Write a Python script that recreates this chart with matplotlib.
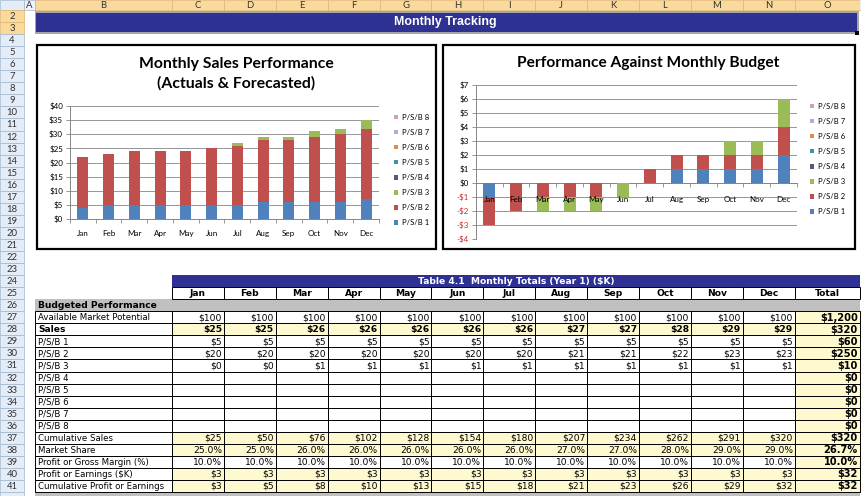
import matplotlib
matplotlib.use('Agg')
import matplotlib.pyplot as plt
from matplotlib.patches import Rectangle
from matplotlib.ticker import FuncFormatter, MultipleLocator

W, H = 862, 496

months = ['Jan', 'Feb', 'Mar', 'Apr', 'May', 'Jun', 'Jul', 'Aug', 'Sep', 'Oct', 'Nov', 'Dec']
series_names = ['P/S/B 1', 'P/S/B 2', 'P/S/B 3', 'P/S/B 4', 'P/S/B 5', 'P/S/B 6', 'P/S/B 7', 'P/S/B 8']
series_colors = ['#4F81BD', '#C0504D', '#9BBB59', '#5F5574', '#3B93AE', '#E0894A', '#A4B3D6', '#CFA3A3']

# chart 1 - monthly sales (actuals & forecasted)
sales_psb1 = [4, 5, 5, 5, 5, 5, 5, 6, 6, 6, 6, 7]
sales_psb2 = [18, 18, 19, 19, 19, 20, 21, 22, 22, 23, 24, 25]
sales_psb3 = [0, 0, 0, 0, 0, 0, 1, 1, 1, 2, 2, 3]

# chart 2 - performance against budget
budget_psb1 = [-1, 0, 0, 0, 0, 0, 0, 1, 1, 1, 1, 2]
budget_psb2 = [-2, -2, -1, -1, -1, 0, 1, 1, 1, 1, 1, 2]
budget_psb3 = [0, 0, -1, -1, -1, -1, 0, 0, 0, 1, 1, 2]

# table 4.1
market_potential = [100, 100, 100, 100, 100, 100, 100, 100, 100, 100, 100, 100]
sales = [25, 25, 26, 26, 26, 26, 26, 27, 27, 28, 29, 29]
psb1 = [5, 5, 5, 5, 5, 5, 5, 5, 5, 5, 5, 5]
psb2 = [20, 20, 20, 20, 20, 20, 20, 21, 21, 22, 23, 23]
psb3 = [0, 0, 1, 1, 1, 1, 1, 1, 1, 1, 1, 1]
cum_sales = [25, 50, 76, 102, 128, 154, 180, 207, 234, 262, 291, 320]
market_share = [25.0, 25.0, 26.0, 26.0, 26.0, 26.0, 26.0, 27.0, 27.0, 28.0, 29.0, 29.0]
margin = [10.0, 10.0, 10.0, 10.0, 10.0, 10.0, 10.0, 10.0, 10.0, 10.0, 10.0, 10.0]
profit = [3, 3, 3, 3, 3, 3, 3, 3, 3, 3, 3, 3]
cum_profit = [3, 5, 8, 10, 13, 15, 18, 21, 23, 26, 29, 32]
totals = [1200, 320, 60, 250, 10, 0, 0, 0, 0, 0, 320, 26.7, 10.0, 32, 32]

BLUE = '#2E3192'
YELLOW = '#FFF9CF'
GRAY = '#C0C0C0'
TFONT = 'DejaVu Sans'
TSIZE = 6.6
LSIZE = 6.2

fig = plt.figure(figsize=(W / 100, H / 100), dpi=100)
bg = fig.add_axes([0, 0, 1, 1])
bg.set_xlim(0, W)
bg.set_ylim(H, 0)
bg.axis('off')


def px_axes(x0, y0, x1, y1):
    return fig.add_axes([x0 / W, 1 - y1 / H, (x1 - x0) / W, (y1 - y0) / H])


def box(x0, y0, x1, y1, fc, ec='none', lw=0.0, z=1):
    bg.add_patch(Rectangle((x0, y0), x1 - x0, y1 - y0, facecolor=fc,
                           edgecolor=ec, linewidth=lw, zorder=z))


# sheet geometry
ROW0, ROW_H = 10.0, 12.05
def row_top(r):
    return ROW0 + (r - 2) * ROW_H

col_edges = [24, 35, 172] + [172 + 51.9 * (i + 1) for i in range(12)] + [860]
col_letters = 'ABCDEFGHIJKLMNO'

# column header strip
box(0, 0, 24, ROW0, '#E4ECF7', '#9EB6CE', 0.5)
for i, letter in enumerate(col_letters):
    x0, x1 = col_edges[i], col_edges[i + 1]
    fc = '#EEF3FA' if letter == 'A' else '#F9D99C'
    ec = '#9EB6CE' if letter == 'A' else '#E2B46C'
    box(x0, 0, x1, ROW0, fc, ec, 0.5)
    bg.text((x0 + x1) / 2, ROW0 / 2 + 0.5, letter, ha='center', va='center',
            fontsize=6.8, color='#333333', family='Lato')
box(860, 0, W, ROW0, '#E4ECF7')

# row header strip
for r in range(2, 43):
    y0 = row_top(r)
    fc = '#F9D99C' if r in (2, 3) else '#E4ECF7'
    ec = '#E2B46C' if r in (2, 3) else '#9EB6CE'
    box(0, y0, 24, y0 + ROW_H, fc, ec, 0.5)
    if r < 42:
        bg.text(12, y0 + ROW_H / 2 + 0.5, str(r), ha='center', va='center',
                fontsize=6.8, color='#333333', family='Lato')

# title banner
box(35, 11, 859, 34, '#A6A6A6')
box(36, 12.5, 857, 32, BLUE)
box(855, 31, 859, 35, 'black')
bg.text(445, 22.5, 'Monthly Tracking', ha='center', va='center', color='white',
        fontsize=8.9, fontweight='bold', family='Liberation Sans')

# chart frames
box(37, 45, 436, 249, 'white', 'black', 1.6)
box(443, 45, 855, 249, 'white', 'black', 1.6)
bg.text(236, 64, 'Monthly Sales Performance', ha='center', va='center',
        fontsize=11.3, fontweight='bold', family='Lato')
bg.text(236, 83, '(Actuals & Forecasted)', ha='center', va='center',
        fontsize=11.3, fontweight='bold', family='Lato')
bg.text(648, 63, 'Performance Against Monthly Budget', ha='center', va='center',
        fontsize=11.2, fontweight='bold', family='Lato')

legend_handles = [Rectangle((0, 0), 1, 1, facecolor=c, linewidth=0) for c in series_colors][::-1]
legend_labels = series_names[::-1]


def style_axis(ax):
    ax.patch.set_alpha(0)
    ax.set_xlim(-0.5, 11.5)
    for s in ('top', 'right'):
        ax.spines[s].set_visible(False)
    for s in ('left', 'bottom'):
        ax.spines[s].set_color('#868686')
        ax.spines[s].set_linewidth(0.7)
    ax.grid(axis='y', color='#868686', linewidth=0.6, zorder=0)
    ax.set_axisbelow(True)
    ax.set_xticks(range(12))
    ax.set_xticklabels(months)
    ax.set_xticks([i - 0.5 for i in range(13)], minor=True)
    ax.tick_params(axis='x', which='major', length=0, pad=8, labelsize=5.8)
    ax.tick_params(axis='x', which='minor', length=3, color='#868686', width=0.6)
    ax.tick_params(axis='y', length=3, color='#868686', width=0.6, labelsize=5.8, pad=2)
    for lbl in ax.get_yticklabels() + ax.get_xticklabels():
        lbl.set_family('Lato')


def stack(ax, series, width):
    pos = [0] * 12
    neg = [0] * 12
    for vals, color in zip(series, series_colors):
        bottoms = [pos[i] if v >= 0 else neg[i] for i, v in enumerate(vals)]
        ax.bar(range(12), vals, width=width, bottom=bottoms, color=color,
               linewidth=0, zorder=3)
        for i, v in enumerate(vals):
            if v >= 0:
                pos[i] += v
            else:
                neg[i] += v


legend_kw = dict(loc='upper left', bbox_transform=bg.transData, frameon=False, borderpad=0,
                 handlelength=0.55, handleheight=0.55, handletextpad=0.5, labelspacing=1.05,
                 prop={'family': 'Lato', 'size': 5.5})

# chart 1
ax1 = px_axes(70, 106, 379, 219)
stack(ax1, [sales_psb1, sales_psb2, sales_psb3], 0.43)
ax1.set_ylim(0, 40)
ax1.yaxis.set_major_locator(MultipleLocator(5))
ax1.yaxis.set_major_formatter(FuncFormatter(lambda v, p: f'${v:.0f}'))
style_axis(ax1)
ax1.legend(legend_handles, legend_labels, bbox_to_anchor=(390, 110), **legend_kw)

# chart 2 - category labels sit on the zero line, drawn over the bars
ax2 = px_axes(476, 85, 797, 239)
stack(ax2, [budget_psb1, budget_psb2, budget_psb3], 0.44)
ax2.spines['bottom'].set_position(('data', 0))
ax2.set_ylim(-4, 7)
yt = list(range(-4, 8))
ax2.set_yticks(yt)
ax2.set_yticklabels([f'-${-v}' if v < 0 else f'${v}' for v in yt])
style_axis(ax2)
ax2.set_xticklabels([])
for i, m in enumerate(months):
    ax2.annotate(m, (i, 0), xytext=(0, -9), textcoords='offset points', ha='center',
                 va='top', fontsize=5.8, family='Lato', zorder=6, annotation_clip=False)
for lbl, v in zip(ax2.get_yticklabels(), yt):
    if v < 0:
        lbl.set_color('#D42A2A')
ax2.legend(legend_handles, legend_labels, bbox_to_anchor=(806, 99), **legend_kw)

# table 4.1
x_left, x_right = col_edges[1], col_edges[-1]
y24 = row_top(24)
box(col_edges[2], y24, x_right, y24 + ROW_H, BLUE)
bg.text((col_edges[2] + 860) / 2, y24 + ROW_H / 2 + 0.5, 'Table 4.1  Monthly Totals (Year 1) ($K)',
        ha='center', va='center', color='white', fontsize=TSIZE, fontweight='bold', family=TFONT)

y25 = row_top(25)
for j, name in enumerate(months + ['Total']):
    x0, x1 = col_edges[2 + j], col_edges[3 + j]
    box(x0, y25, x1, y25 + ROW_H, 'white', 'black', 0.7, z=2)
    bg.text((x0 + x1) / 2, y25 + ROW_H / 2 + 0.5, name, ha='center', va='center',
            fontsize=TSIZE, fontweight='bold', family=TFONT, zorder=4)

y26 = row_top(26)
box(x_left, y26, x_right, y26 + ROW_H, GRAY)
bg.text(x_left + 3, y26 + ROW_H / 2 + 0.5, 'Budgeted Performance', ha='left', va='center',
        fontsize=TSIZE, fontweight='bold', family=TFONT)

money = lambda v: f'${v:,.0f}'
pct = lambda v: f'{v:.1f}%'
table_rows = [
    ('Available Market Potential', market_potential, money, False, False),
    ('Sales', sales, money, True, True),
    ('P/S/B 1', psb1, money, False, False),
    ('P/S/B 2', psb2, money, False, False),
    ('P/S/B 3', psb3, money, False, False),
    ('P/S/B 4', None, money, False, False),
    ('P/S/B 5', None, money, False, False),
    ('P/S/B 6', None, money, False, False),
    ('P/S/B 7', None, money, False, False),
    ('P/S/B 8', None, money, False, False),
    ('Cumulative Sales', cum_sales, money, False, True),
    ('Market Share', market_share, pct, False, True),
    ('Profit or Gross Margin (%)', margin, pct, False, False),
    ('Profit or Earnings ($K)', profit, money, False, True),
    ('Cumulative Profit or Earnings', cum_profit, money, False, True),
]

for k, (label, vals, fmt, bold, yellow) in enumerate(table_rows):
    y0 = row_top(27 + k)
    yc = y0 + ROW_H / 2 + 0.5
    box(col_edges[1], y0, col_edges[2], y0 + ROW_H, 'white', 'black', 0.7, z=2)
    bg.text(col_edges[1] + 3, yc, label, ha='left', va='center',
            fontsize=TSIZE if bold else LSIZE,
            fontweight='bold' if bold else 'normal', family=TFONT, zorder=4)
    for j in range(12):
        x0, x1 = col_edges[2 + j], col_edges[3 + j]
        box(x0, y0, x1, y0 + ROW_H, YELLOW if yellow else 'white', 'black', 0.7, z=2)
        if vals is not None:
            bg.text(x1 - 2, yc, fmt(vals[j]), ha='right', va='center', fontsize=TSIZE,
                    fontweight='bold' if bold else 'normal', family=TFONT, zorder=4)
    x0, x1 = col_edges[14], col_edges[15]
    box(x0, y0, x1, y0 + ROW_H, YELLOW, 'black', 0.7, z=2)
    bg.text(x1 - 2, yc, fmt(totals[k]), ha='right', va='center', fontsize=TSIZE + 0.5,
            fontweight='bold', family=TFONT, zorder=4)

box(x_left, row_top(42), x_right, H, GRAY)

fig.savefig('out.png', dpi=100)
